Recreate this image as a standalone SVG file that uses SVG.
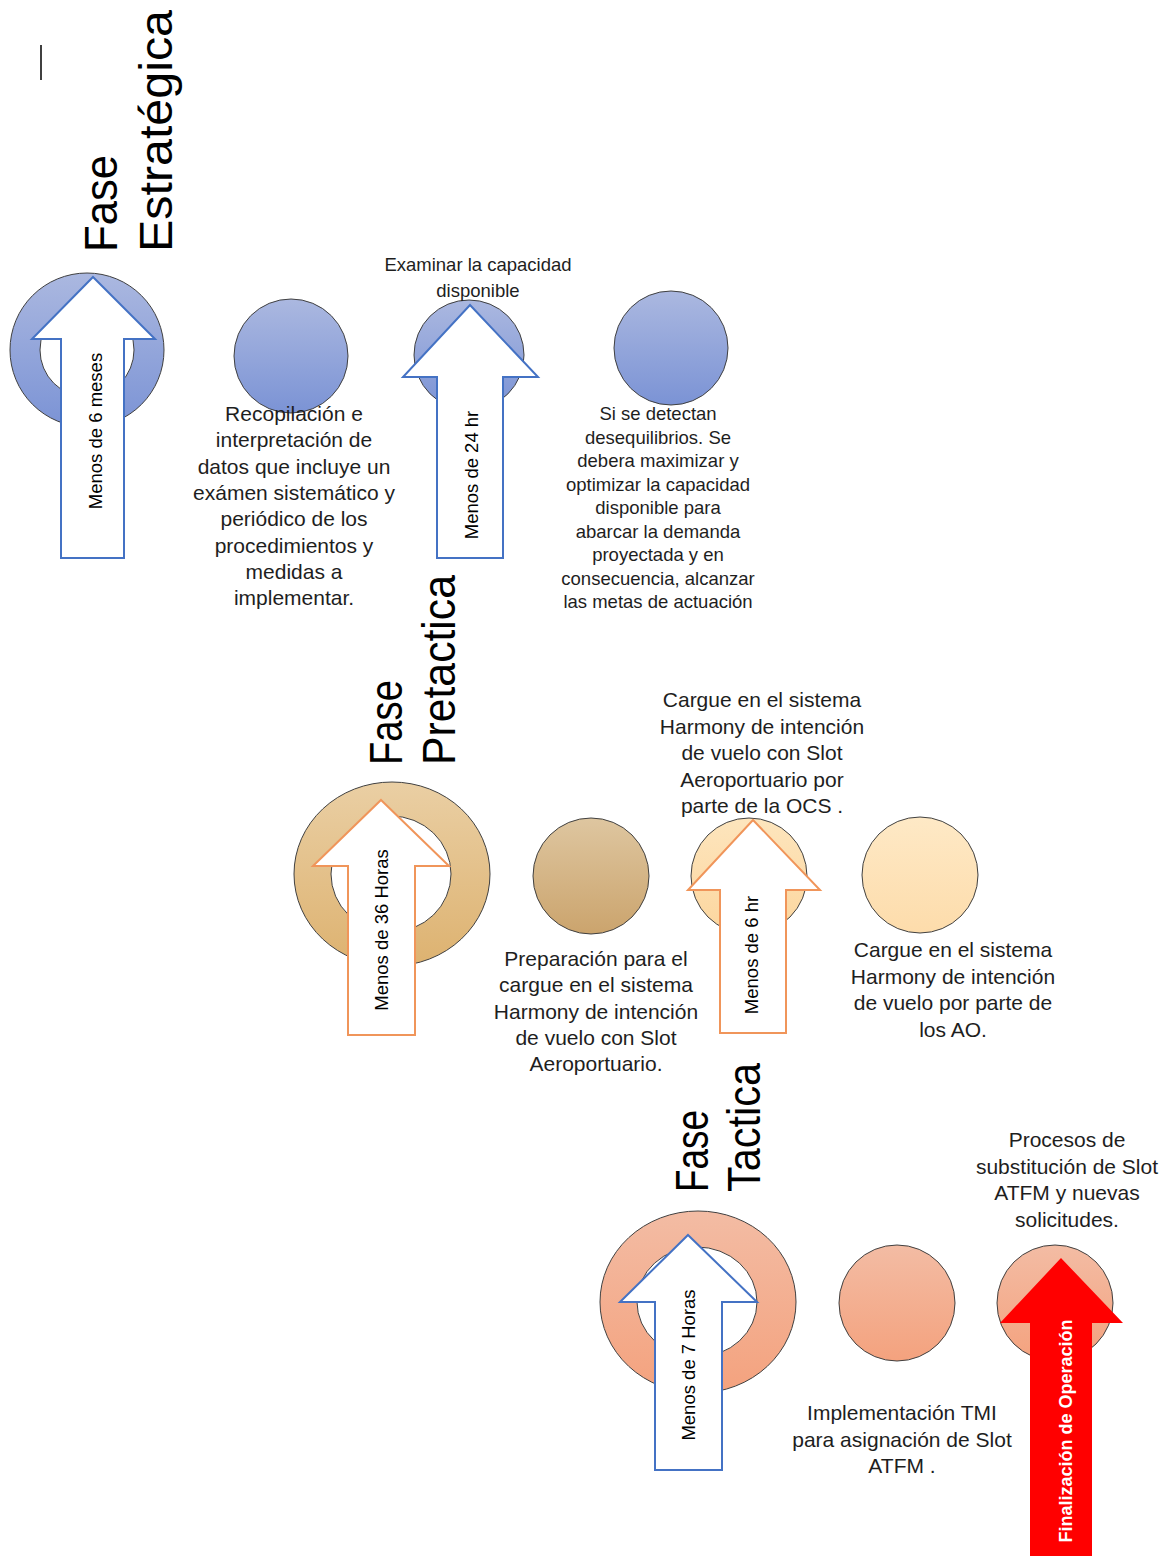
<svg xmlns="http://www.w3.org/2000/svg" width="1172" height="1556" viewBox="0 0 1172 1556">
<defs>
<linearGradient id="gBlue" x1="0" y1="0" x2="0" y2="1"><stop offset="0" stop-color="#abb8e0"/><stop offset="1" stop-color="#7b93d5"/></linearGradient>
<linearGradient id="gTan" x1="0" y1="0" x2="0" y2="1"><stop offset="0" stop-color="#eacfa4"/><stop offset="1" stop-color="#ddb270"/></linearGradient>
<linearGradient id="gTan2" x1="0" y1="0" x2="0" y2="1"><stop offset="0" stop-color="#dec6a0"/><stop offset="1" stop-color="#cba46d"/></linearGradient>
<linearGradient id="gPeach" x1="0" y1="0" x2="0" y2="1"><stop offset="0" stop-color="#fde5bd"/><stop offset="1" stop-color="#fcd69e"/></linearGradient>
<linearGradient id="gPeach2" x1="0" y1="0" x2="0" y2="1"><stop offset="0" stop-color="#fee9c6"/><stop offset="1" stop-color="#fddcab"/></linearGradient>
<linearGradient id="gSalmon" x1="0" y1="0" x2="0" y2="1"><stop offset="0" stop-color="#f3bca4"/><stop offset="1" stop-color="#f4a27e"/></linearGradient>
</defs>
<style>
.c{stroke:#404040;stroke-width:1}
.d{stroke:#404040;stroke-width:1;fill-rule:evenodd}
.ab{fill:#fff;stroke:#4472c4;stroke-width:2}
.ao{fill:#fff;stroke:#f0955a;stroke-width:2}
.ar{fill:#ff0000;stroke:none}
.t{font-family:"Liberation Sans",Arial,sans-serif;fill:#1e1e1e;text-anchor:middle}
.ttl{font-family:"Liberation Sans",Arial,sans-serif;fill:#000;font-size:46px}
.lab{font-family:"Liberation Sans",Arial,sans-serif;fill:#000;font-size:18.5px;text-anchor:middle}
</style>
<line x1="41" y1="45" x2="41" y2="80" stroke="#000" stroke-width="1.5"/>

<g id="titles">
<text class="ttl" transform="translate(117,252) rotate(-90)" textLength="97" lengthAdjust="spacingAndGlyphs">Fase</text>
<text class="ttl" transform="translate(172,252) rotate(-90)" textLength="242" lengthAdjust="spacingAndGlyphs">Estratégica</text>
<text class="ttl" transform="translate(402,765) rotate(-90)" textLength="85" lengthAdjust="spacingAndGlyphs">Fase</text>
<text class="ttl" transform="translate(455,765) rotate(-90)" textLength="190" lengthAdjust="spacingAndGlyphs">Pretactica</text>
<text class="ttl" transform="translate(708,1192) rotate(-90)" textLength="82" lengthAdjust="spacingAndGlyphs">Fase</text>
<text class="ttl" transform="translate(760,1192) rotate(-90)" textLength="129" lengthAdjust="spacingAndGlyphs">Tactica</text>
</g>

<g id="row1">
<g id="donut1"><path class="d" fill="url(#gBlue)" d="M10,350 a77,77 0 1,0 154,0 a77,77 0 1,0 -154,0 Z M40,350 a47,47 0 1,1 94,0 a47,47 0 1,1 -94,0 Z"/></g>
<g id="circle1b"><circle class="c" cx="291" cy="356" r="57" fill="url(#gBlue)"/></g>
<g id="circle1c"><circle class="c" cx="469" cy="355" r="55" fill="url(#gBlue)"/></g>
<g id="circle1d"><circle class="c" cx="671" cy="348" r="57" fill="url(#gBlue)"/></g>
</g>

<g id="row2">
<g id="donut2"><path class="d" fill="url(#gTan)" d="M294,874 a98,92 0 1,0 196,0 a98,92 0 1,0 -196,0 Z M331,874 a60,58 0 1,1 120,0 a60,58 0 1,1 -120,0 Z"/></g>
<g id="circle2b"><circle class="c" cx="591" cy="876" r="58" fill="url(#gTan2)"/></g>
<g id="circle2c"><circle class="c" cx="749" cy="876" r="58" fill="url(#gPeach)"/></g>
<g id="circle2d"><circle class="c" cx="920" cy="875" r="58" fill="url(#gPeach2)"/></g>
</g>

<g id="row3">
<g id="donut3"><path class="d" fill="url(#gSalmon)" d="M600,1302 a98,91 0 1,0 196,0 a98,91 0 1,0 -196,0 Z M637,1302 a60,55 0 1,1 120,0 a60,55 0 1,1 -120,0 Z"/></g>
<g id="circle3b"><circle class="c" cx="897" cy="1303" r="58" fill="url(#gSalmon)"/></g>
<g id="circle3c"><circle class="c" cx="1055" cy="1303" r="58" fill="url(#gSalmon)"/></g>
</g>

<g id="connectors">
<path class="ab" d="M93,277 L155,339 L124,339 L124,558 L61,558 L61,339 L32,339 Z"/>
<path class="ab" d="M470,305 L538,377 L503,377 L503,558 L437,558 L437,377 L403,377 Z"/>
<path class="ao" d="M381,800 L449,866 L415,866 L415,1035 L348,1035 L348,866 L313,866 Z"/>
<path class="ao" d="M753,820 L820,890 L786,890 L786,1033 L720,1033 L720,890 L688,890 Z"/>
<path class="ab" d="M688,1235 L757,1302 L722,1302 L722,1470 L655,1470 L655,1302 L620,1302 Z"/>
<path class="ar" d="M1061,1258 L1123,1323 L1092,1323 L1092,1560 L1030,1560 L1030,1323 L1000,1323 Z"/>
</g>

<g id="arrow-labels">
<text class="lab" transform="translate(102,431) rotate(-90)">Menos de 6 meses</text>
<text class="lab" transform="translate(478,475) rotate(-90)">Menos de 24 hr</text>
<text class="lab" transform="translate(388,930) rotate(-90)">Menos de 36 Horas</text>
<text class="lab" transform="translate(758,955) rotate(-90)">Menos de 6 hr</text>
<text class="lab" transform="translate(695,1365) rotate(-90)">Menos de 7 Horas</text>
<text class="lab" transform="translate(1072,1431) rotate(-90)" style="fill:#fff;font-weight:bold;font-size:18px">Finalización de Operación</text>
</g>

<g id="texts">
<text class="t" style="font-size:21px" x="294" y="421">
<tspan x="294">Recopilación e</tspan><tspan x="294" dy="26.3">interpretación de</tspan><tspan x="294" dy="26.3">datos que incluye un</tspan><tspan x="294" dy="26.3">exámen sistemático y</tspan><tspan x="294" dy="26.3">periódico de los</tspan><tspan x="294" dy="26.3">procedimientos y</tspan><tspan x="294" dy="26.3">medidas a</tspan><tspan x="294" dy="26.3">implementar.</tspan>
</text>
<text class="t" style="font-size:18.5px" x="478" y="271"><tspan x="478">Examinar la capacidad</tspan><tspan x="478" dy="26">disponible</tspan></text>
<text class="t" style="font-size:18.5px" x="658" y="420">
<tspan x="658">Si se detectan</tspan><tspan x="658" dy="23.5">desequilibrios. Se</tspan><tspan x="658" dy="23.5">debera maximizar y</tspan><tspan x="658" dy="23.5">optimizar la capacidad</tspan><tspan x="658" dy="23.5">disponible para</tspan><tspan x="658" dy="23.5">abarcar la demanda</tspan><tspan x="658" dy="23.5">proyectada y en</tspan><tspan x="658" dy="23.5">consecuencia, alcanzar</tspan><tspan x="658" dy="23.5">las metas de actuación</tspan>
</text>
<text class="t" style="font-size:21px" x="762" y="707">
<tspan x="762">Cargue en el sistema</tspan><tspan x="762" dy="26.5">Harmony de intención</tspan><tspan x="762" dy="26.5">de vuelo con Slot</tspan><tspan x="762" dy="26.5">Aeroportuario por</tspan><tspan x="762" dy="26.5">parte de la OCS .</tspan>
</text>
<text class="t" style="font-size:21px" x="596" y="966">
<tspan x="596">Preparación para el</tspan><tspan x="596" dy="26.3">cargue en el sistema</tspan><tspan x="596" dy="26.3">Harmony de intención</tspan><tspan x="596" dy="26.3">de vuelo con Slot</tspan><tspan x="596" dy="26.3">Aeroportuario.</tspan>
</text>
<text class="t" style="font-size:21px" x="953" y="957">
<tspan x="953">Cargue en el sistema</tspan><tspan x="953" dy="26.7">Harmony de intención</tspan><tspan x="953" dy="26.7">de vuelo por parte de</tspan><tspan x="953" dy="26.7">los AO.</tspan>
</text>
<text class="t" style="font-size:21px" x="1067" y="1147">
<tspan x="1067">Procesos de</tspan><tspan x="1067" dy="26.7">substitución de Slot</tspan><tspan x="1067" dy="26.7">ATFM y nuevas</tspan><tspan x="1067" dy="26.7">solicitudes.</tspan>
</text>
<text class="t" style="font-size:21px" x="902" y="1420">
<tspan x="902">Implementación TMI</tspan><tspan x="902" dy="26.5">para asignación de Slot</tspan><tspan x="902" dy="26.5">ATFM .</tspan>
</text>
</g>
</svg>
